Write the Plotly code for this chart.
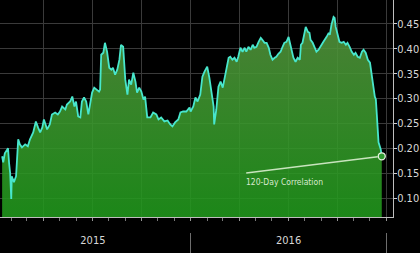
import plotly.graph_objects as go

dates = [
    "2015-01-14", "2015-01-16", "2015-01-19", "2015-01-25", "2015-01-27", "2015-01-29", "2015-01-31",
    "2015-02-01", "2015-02-05", "2015-02-09", "2015-02-13", "2015-02-16", "2015-02-20", "2015-02-26",
    "2015-03-03", "2015-03-07", "2015-03-13", "2015-03-18", "2015-03-22", "2015-03-26", "2015-03-30",
    "2015-04-02", "2015-04-08", "2015-04-13", "2015-04-17", "2015-04-23", "2015-04-28",
    "2015-05-02", "2015-05-06", "2015-05-12", "2015-05-15", "2015-05-21", "2015-05-25", "2015-05-29",
    "2015-06-01", "2015-06-05", "2015-06-09", "2015-06-12", "2015-06-16", "2015-06-20", "2015-06-24", "2015-06-27",
    "2015-07-01", "2015-07-05", "2015-07-09", "2015-07-14", "2015-07-16", "2015-07-18", "2015-07-22", "2015-07-25", "2015-07-29",
    "2015-08-02", "2015-08-06", "2015-08-09", "2015-08-13", "2015-08-17", "2015-08-21", "2015-08-24", "2015-08-28",
    "2015-09-01", "2015-09-05", "2015-09-08", "2015-09-12", "2015-09-16", "2015-09-20", "2015-09-23", "2015-09-27",
    "2015-10-01", "2015-10-05", "2015-10-08", "2015-10-12", "2015-10-18", "2015-10-23", "2015-10-29",
    "2015-11-02", "2015-11-07", "2015-11-13", "2015-11-19", "2015-11-24", "2015-11-28",
    "2015-12-03", "2015-12-09", "2015-12-13", "2015-12-18", "2015-12-24", "2015-12-30",
    "2016-01-01", "2016-01-06", "2016-01-10", "2016-01-14", "2016-01-19", "2016-01-23", "2016-01-27",
    "2016-02-01", "2016-02-05", "2016-02-09", "2016-02-13", "2016-02-14", "2016-02-18", "2016-02-22", "2016-02-26",
    "2016-03-01", "2016-03-04", "2016-03-08", "2016-03-12", "2016-03-15", "2016-03-19", "2016-03-23", "2016-03-27", "2016-03-30",
    "2016-04-03", "2016-04-07", "2016-04-11", "2016-04-14", "2016-04-18", "2016-04-22", "2016-04-26", "2016-04-29",
    "2016-05-03", "2016-05-07", "2016-05-11", "2016-05-14", "2016-05-18", "2016-05-22", "2016-05-26", "2016-05-29",
    "2016-06-02", "2016-06-06", "2016-06-09", "2016-06-13", "2016-06-17", "2016-06-20", "2016-06-24", "2016-06-28",
    "2016-07-02", "2016-07-04", "2016-07-08", "2016-07-11", "2016-07-15", "2016-07-19", "2016-07-23", "2016-07-25",
    "2016-07-28", "2016-07-30",
    "2016-08-03", "2016-08-07", "2016-08-10", "2016-08-12", "2016-08-16", "2016-08-20", "2016-08-23", "2016-08-27", "2016-08-31",
    "2016-09-04", "2016-09-05", "2016-09-11", "2016-09-15", "2016-09-17", "2016-09-20", "2016-09-24", "2016-09-26", "2016-09-28",
    "2016-10-02", "2016-10-05", "2016-10-09", "2016-10-13", "2016-10-17", "2016-10-20", "2016-10-24", "2016-10-28",
    "2016-11-01", "2016-11-04", "2016-11-08", "2016-11-12", "2016-11-16", "2016-11-19", "2016-11-23", "2016-11-27",
    "2016-12-01", "2016-12-02", "2016-12-06", "2016-12-10", "2016-12-12", "2016-12-16", "2016-12-17", "2016-12-21", "2016-12-23",
]

correlation = [
    0.184, 0.172, 0.190, 0.200, 0.170, 0.150, 0.098,
    0.144, 0.132, 0.144, 0.218, 0.208, 0.202, 0.208,
    0.204, 0.218, 0.232, 0.254, 0.242, 0.232, 0.242,
    0.258, 0.238, 0.248, 0.268, 0.272, 0.268,
    0.274, 0.284, 0.278, 0.288, 0.294, 0.304, 0.284,
    0.294, 0.264, 0.262, 0.294, 0.302, 0.294, 0.268, 0.284,
    0.312, 0.322, 0.318, 0.314, 0.318, 0.388, 0.392, 0.412, 0.394,
    0.362, 0.358, 0.362, 0.348, 0.358, 0.378, 0.408, 0.404,
    0.338, 0.308, 0.338, 0.328, 0.352, 0.334, 0.312, 0.322,
    0.314, 0.298, 0.304, 0.262, 0.262, 0.272, 0.268,
    0.258, 0.262, 0.254, 0.256, 0.248, 0.244,
    0.252, 0.258, 0.272, 0.274, 0.274, 0.282,
    0.274, 0.284, 0.302, 0.294, 0.308, 0.344, 0.354,
    0.364, 0.342, 0.312, 0.284, 0.248, 0.278, 0.324, 0.334,
    0.322, 0.338, 0.364, 0.382, 0.384, 0.378, 0.382, 0.374, 0.384,
    0.402, 0.394, 0.402, 0.394, 0.404, 0.398, 0.408, 0.402,
    0.404, 0.414, 0.422, 0.418, 0.412, 0.412, 0.402, 0.388,
    0.378, 0.382, 0.384, 0.390, 0.394, 0.402, 0.412, 0.414,
    0.424, 0.414, 0.398, 0.382, 0.374, 0.382, 0.378, 0.408,
    0.412, 0.424,
    0.444, 0.434, 0.432, 0.418, 0.412, 0.402, 0.394, 0.398, 0.404,
    0.412, 0.414, 0.424, 0.432, 0.428, 0.448, 0.464, 0.462, 0.444,
    0.424, 0.414, 0.412, 0.414, 0.408, 0.412, 0.404, 0.394,
    0.388, 0.392, 0.384, 0.382, 0.394, 0.398, 0.392, 0.378,
    0.372, 0.364, 0.338, 0.304, 0.298, 0.238, 0.212, 0.198, 0.184,
]

y_ticks = [0.10, 0.15, 0.20, 0.25, 0.30, 0.35, 0.40, 0.45]
x_range = ["2015-01-10", "2017-01-13"]
y_range = [0.062, 0.498]
series_label = "120-Day Correlation"
label_anchor = ("2016-04-11", 0.150)

FONT = "DejaVu Sans Condensed, DejaVu Sans, sans-serif"

fig = go.Figure()

fig.add_trace(go.Scatter(
    x=dates, y=correlation, mode="lines",
    line=dict(color="#48e6cc", width=1.8),
    fill="tozeroy",
    fillgradient=dict(
        type="vertical",
        start=y_range[0], stop=0.47,
        colorscale=[[0, "rgba(32,153,28,0.88)"], [0.5, "rgba(59,151,45,0.88)"], [1, "rgba(86,145,62,0.88)"]],
    ),
    showlegend=False, hoverinfo="skip",
))

fig.add_trace(go.Scatter(
    x=[dates[-1]], y=[correlation[-1]], mode="markers",
    marker=dict(size=7, color="#2f9a2f", line=dict(color="#e6f2e0", width=1.3)),
    showlegend=False, hoverinfo="skip",
))

# helper traces so the overlay axes are drawn
fig.add_trace(go.Scatter(x=[dates[0]], y=[None], xaxis="x2", yaxis="y", showlegend=False, hoverinfo="skip"))
fig.add_trace(go.Scatter(x=[dates[0]], y=[None], xaxis="x3", yaxis="y", showlegend=False, hoverinfo="skip"))

plot_bottom = 36 / 253
x_dom = [0, 393 / 420]

fig.update_layout(
    width=420, height=253,
    margin=dict(l=0, r=0, t=0, b=0),
    paper_bgcolor="black", plot_bgcolor="black",
    xaxis=dict(
        type="date", range=x_range, domain=x_dom, anchor="y",
        dtick="M3", tick0="2015-01-01",
        showgrid=True, gridcolor="rgb(58,58,58)", gridwidth=1,
        showticklabels=False,
        ticks="outside", ticklen=3, tickcolor="rgb(150,150,150)",
        minor=dict(dtick="M1", ticks="outside", ticklen=3, tickcolor="rgb(120,120,120)", showgrid=False),
        showline=True, linecolor="rgb(190,190,190)", linewidth=1,
        zeroline=False, automargin=False,
    ),
    xaxis2=dict(
        type="date", range=x_range, domain=x_dom, anchor="y", overlaying="x",
        dtick="M12", tick0="2015-01-01", tickformat="%Y", ticklabelmode="period",
        ticks="", showgrid=False, showline=False, zeroline=False,
        tickfont=dict(family=FONT, size=11, color="rgb(215,215,215)"),
        ticklabelstandoff=15, automargin=False,
    ),
    xaxis3=dict(
        type="date", range=x_range, domain=x_dom, anchor="free", position=0, overlaying="x",
        dtick="M12", tick0="2015-01-01", showticklabels=False,
        ticks="inside", ticklen=20, tickcolor="rgb(110,110,110)", tickwidth=1,
        showgrid=False, showline=False, zeroline=False, automargin=False,
    ),
    yaxis=dict(
        range=y_range, domain=[plot_bottom, 1], side="right", anchor="x",
        tickvals=y_ticks, tickformat=".2f",
        showgrid=True, gridcolor="rgb(58,58,58)", gridwidth=1,
        ticks="outside", ticklen=3, tickcolor="rgb(210,210,210)",
        showline=True, linecolor="rgb(190,190,190)", linewidth=1,
        tickfont=dict(family=FONT, size=11, color="rgb(215,215,215)"),
        ticklabelstandoff=-2,
        zeroline=False, automargin=False,
    ),
    annotations=[
        dict(
            x=dates[-1], y=correlation[-1], xref="x", yref="y",
            ax=label_anchor[0], ay=label_anchor[1], axref="x", ayref="y",
            text="", showarrow=True, arrowhead=0, arrowwidth=1.3,
            arrowcolor="rgb(200,228,190)", standoff=4, startstandoff=0,
        ),
        dict(
            x=label_anchor[0], y=label_anchor[1], xref="x", yref="y",
            text=series_label, showarrow=False, xanchor="left", yanchor="top",
            yshift=-2, xshift=-1,
            font=dict(family=FONT, size=8.5, color="rgb(215,232,205)"),
        ),
    ],
)

fig.write_html("out.html")
